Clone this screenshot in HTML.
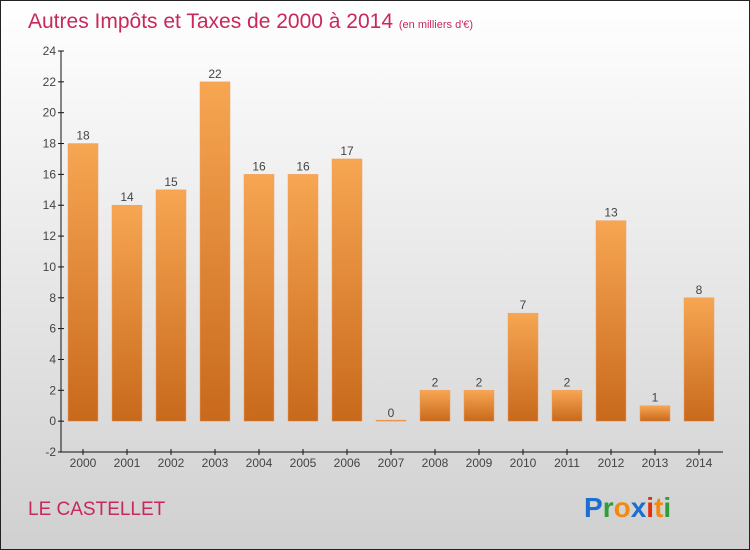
<!DOCTYPE html>
<html><head><meta charset="utf-8"><style>
html,body{margin:0;padding:0}
#wrap{width:750px;height:550px;position:relative;box-sizing:border-box;border:1px solid #222;background:linear-gradient(#ffffff,#d0d0d0);font-family:"Liberation Sans",sans-serif;overflow:hidden}
</style></head><body>
<div id="wrap">
<svg id="chart" width="750" height="550" style="position:absolute;left:0;top:0">
<defs><linearGradient id="bg" x1="0" y1="0" x2="0" y2="1"><stop offset="0" stop-color="#f7a652"/><stop offset="1" stop-color="#c8691c"/></linearGradient></defs>
<text x="27" y="27" font-size="21" fill="#c8285a">Autres Impôts et Taxes de 2000 à 2014 <tspan font-size="11">(en milliers d'€)</tspan></text>
<text x="27" y="514" font-size="19" fill="#c8285a">LE CASTELLET</text>
<g font-size="28" font-weight="bold" font-family="Liberation Sans, sans-serif">
<text x="583" y="516"><tspan fill="#1a6fd0">P</tspan><tspan fill="#2e9e3a">r</tspan><tspan fill="#f28a10">o</tspan><tspan fill="#1a6fd0">x</tspan><tspan fill="#e03010">i</tspan><tspan fill="#f28a10">t</tspan><tspan fill="#2e9e3a">i</tspan></text>
</g>
<g id="axes"></g><g id="bars"></g>
</svg>
</div>
<script>
const years=["2000","2001","2002","2003","2004","2005","2006","2007","2008","2009","2010","2011","2012","2013","2014"];
const values=[18,14,15,22,16,16,17,0,2,2,7,2,13,1,8];
const yTicks=[-2,0,2,4,6,8,10,12,14,16,18,20,22,24];
const NS="http://www.w3.org/2000/svg";
const yMin=-2,yMax=24,yTop=50,yBot=451;
function y(v){return yBot-(v-yMin)*(yBot-yTop)/(yMax-yMin);}
function x(i){return 82+i*44;}
function mk(t,a,p){const e=document.createElementNS(NS,t);for(const k in a)e.setAttribute(k,a[k]);p.appendChild(e);return e;}
const ax=document.getElementById('axes'),bg=document.getElementById('bars');
const yl=mk('line',{x1:60,y1:yTop,x2:60,y2:yBot,stroke:'#111','stroke-width':1},ax);


const xl=mk('line',{x1:60,y1:yBot,x2:722,y2:yBot,stroke:'#111','stroke-width':1},ax);


yTicks.forEach(v=>{
 mk('line',{x1:57,y1:y(v),x2:63,y2:y(v),stroke:'#111'},ax);
 const t=mk('text',{x:55,y:y(v)+4,'text-anchor':'end','font-size':12,fill:'#444'},ax);t.textContent=v;
 
 
});
years.forEach((yr,i)=>{
 mk('line',{x1:x(i),y1:yBot-3,x2:x(i),y2:yBot+3,stroke:'#111'},ax);
 const t=mk('text',{x:x(i),y:yBot+15,'text-anchor':'middle','font-size':12,fill:'#444'},ax);t.textContent=yr;
 
 
 const v=values[i];const top=y(v),z=y(0);
 const h=Math.max(z-top,1);
 const r=mk('rect',{x:x(i)-15,y:v>0?top:z-1,width:30,height:h,fill:'url(#bg)',stroke:'#f0a060','stroke-width':0.5},bg);
 
 
 const l=mk('text',{x:x(i),y:(v>0?top:z)-4,'text-anchor':'middle','font-size':12,fill:'#444'},bg);l.textContent=v;
 
 
});
</script>
</body></html>
